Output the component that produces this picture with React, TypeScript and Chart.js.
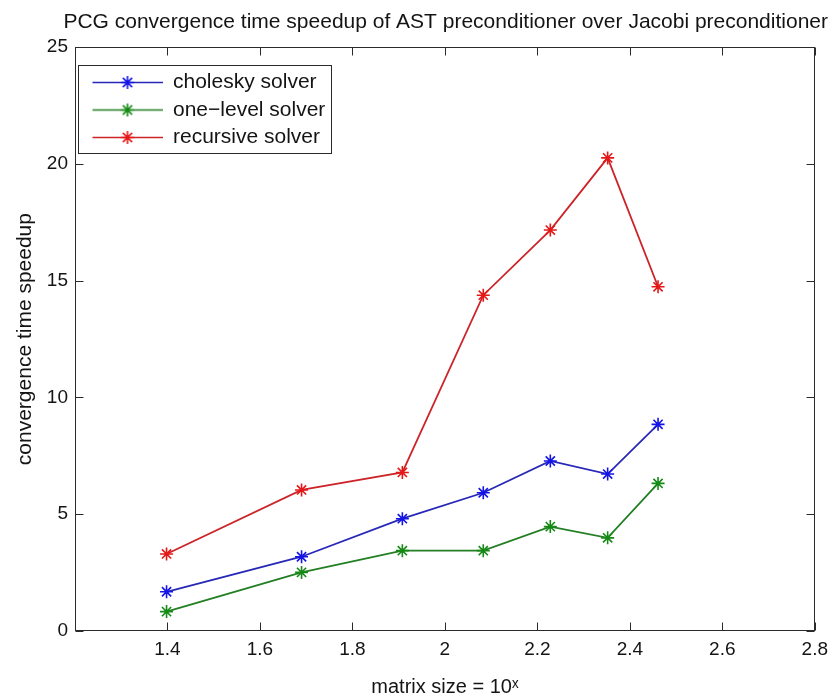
import React, { useEffect, useRef } from 'react';
import { Chart, registerables } from 'chart.js';

Chart.register(...registerables);

// ---- data ----
const matrixSizeExp = [1.398, 1.69, 1.908, 2.083, 2.228, 2.352, 2.461];
const choleskySpeedup = [1.68, 3.18, 4.81, 5.92, 7.28, 6.72, 8.85];
const oneLevelSpeedup = [0.83, 2.51, 3.44, 3.44, 4.47, 3.99, 6.32];
const recursiveSpeedup = [3.3, 6.04, 6.79, 14.38, 17.17, 20.26, 14.74];
const seriesNames = ['cholesky solver', 'one\u2212level solver', 'recursive solver'];
const xTickValues = [1.4, 1.6, 1.8, 2.0, 2.2, 2.4, 2.6, 2.8];
const yTickValues = [0, 5, 10, 15, 20, 25];
const chartTitle = 'PCG convergence time speedup of AST preconditioner over Jacobi preconditioner';
const xTitle = 'matrix size = 10\u02E3';
const yTitle = 'convergence time speedup';

const FAMILY = "'Liberation Sans', Arial, Helvetica, sans-serif";
const LINE_COLORS = ['#2828b8', '#237f23', '#cc2428'];
const MARK_COLORS = ['#1414e6', '#148a14', '#e41818'];

function makeLegendSample(i: number): HTMLCanvasElement {
  const c = document.createElement('canvas');
  c.width = 81;
  c.height = 21;
  const g = c.getContext('2d')!;
  g.strokeStyle = LINE_COLORS[i];
  g.lineWidth = 1.5;
  g.beginPath();
  g.moveTo(11, 10.5);
  g.lineTo(81, 10.5);
  g.stroke();
  const r = 6.5;
  g.strokeStyle = MARK_COLORS[i];
  g.lineWidth = 1.6;
  g.beginPath();
  for (let k = 0; k < 4; k++) {
    const a = (k * Math.PI) / 4;
    g.moveTo(46 - r * Math.cos(a), 10.5 - r * Math.sin(a));
    g.lineTo(46 + r * Math.cos(a), 10.5 + r * Math.sin(a));
  }
  g.stroke();
  return c;
}

const boxPlugin = {
  id: 'matlabBox',
  afterDraw(chart: any) {
    const { ctx, chartArea: a, scales } = chart;
    const x = scales.x;
    const y = scales.y;
    ctx.save();
    ctx.strokeStyle = '#2a2a2a';
    ctx.lineWidth = 1;
    const L = Math.round(a.left) + 0.5;
    const R = Math.round(a.right) - 0.5;
    const T = Math.round(a.top) + 0.5;
    const B = Math.round(a.bottom) - 0.5;
    ctx.strokeRect(L, T, R - L, B - T);
    const tl = 8;
    ctx.beginPath();
    x.ticks.forEach((t: any) => {
      const px = Math.round(x.getPixelForValue(t.value)) + 0.5;
      ctx.moveTo(px, B);
      ctx.lineTo(px, B - tl);
      ctx.moveTo(px, T);
      ctx.lineTo(px, T + tl);
    });
    y.ticks.forEach((t: any) => {
      const py = Math.round(y.getPixelForValue(t.value)) + 0.5;
      ctx.moveTo(L, py);
      ctx.lineTo(L + tl, py);
      ctx.moveTo(R, py);
      ctx.lineTo(R - tl, py);
    });
    ctx.stroke();

    // legend frame
    const lg = chart.legend;
    if (lg && lg.legendHitBoxes && lg.legendHitBoxes.length) {
      const hb = lg.legendHitBoxes;
      const minL = Math.min(...hb.map((h: any) => h.left));
      const minT = Math.min(...hb.map((h: any) => h.top));
      const maxR = Math.max(...hb.map((h: any) => h.left + h.width));
      const maxB = Math.max(...hb.map((h: any) => h.top + h.height));
      const l = Math.round(minL - 3.5) + 0.5;
      const t = Math.round(minT - 6.8) + 0.5;
      const r = Math.round(maxR + 5.5) + 0.5;
      const b = Math.round(maxB + 5.2) + 0.5;
      ctx.strokeRect(l, t, r - l, b - t);
    }
    ctx.restore();
  },
};

export default function App() {
  const ref = useRef<HTMLCanvasElement>(null);
  useEffect(() => {
    document.body.style.margin = '0';
    const canvas = ref.current!;
    const seriesValues = [choleskySpeedup, oneLevelSpeedup, recursiveSpeedup];
    const samples = seriesNames.map((_, i) => makeLegendSample(i));
    const datasets = seriesNames.map((name, i) => ({
      label: name,
      data: matrixSizeExp.map((xv, j) => ({ x: xv, y: seriesValues[i][j] })),
      borderColor: LINE_COLORS[i],
      backgroundColor: MARK_COLORS[i],
      borderWidth: 1.8,
      pointStyle: 'star',
      pointRadius: 6.5,
      pointBorderWidth: 1.6,
      pointBorderColor: MARK_COLORS[i],
      pointBackgroundColor: MARK_COLORS[i],
      tension: 0,
      fill: false,
    }));

    const chart = new Chart(canvas, {
      type: 'line',
      data: { datasets } as any,
      options: {
        animation: false,
        responsive: false,
        layout: { padding: { left: 0, right: 7, top: 0, bottom: 0 } },
        plugins: {
          title: {
            display: true,
            text: chartTitle,
            align: 'end',
            color: '#141414',
            font: { family: FAMILY, size: 21, weight: 'normal', lineHeight: 1.2 },
            padding: { top: 10, bottom: 12 },
          },
          legend: {
            position: 'chartArea',
            align: 'start',
            title: {
              display: true,
              text: '',
              font: { size: 10, lineHeight: 1 },
              // the chartArea legend box starts at the canvas top, so offset past the title block (47px)
              padding: { top: 55.5, bottom: 0 },
            },
            labels: {
              usePointStyle: true,
              pointStyleWidth: 81,
              padding: 6.5,
              color: '#141414',
              font: { family: FAMILY, size: 21 },
              generateLabels: (ch: any) => {
                const items = Chart.defaults.plugins.legend.labels.generateLabels(ch);
                return items.map((it: any, i: number) => ({ ...it, pointStyle: samples[i] }));
              },
            },
          },
          tooltip: { enabled: false },
        },
        scales: {
          x: {
            type: 'linear',
            min: 1.2,
            max: 2.8,
            afterBuildTicks: (s: any) => {
              s.ticks = xTickValues.map((v) => ({ value: v }));
            },
            afterFit: (s: any) => {
              s.height = 62;
            },
            grid: { display: false, drawTicks: false },
            border: { display: false },
            ticks: {
              autoSkip: false,
              maxRotation: 0,
              padding: 7,
              color: '#141414',
              font: { family: FAMILY, size: 19 },
              callback: (v: any) => Number(v).toFixed(1).replace(/\.0$/, ''),
            },
            title: {
              display: true,
              text: xTitle,
              color: '#141414',
              font: { family: FAMILY, size: 20, lineHeight: 0.6 },
              padding: { top: 0, bottom: 0 },
            },
          },
          y: {
            type: 'linear',
            min: 0,
            max: 25,
            afterBuildTicks: (s: any) => {
              s.ticks = yTickValues.map((v) => ({ value: v }));
            },
            afterFit: (s: any) => {
              s.width = 75;
            },
            grid: { display: false, drawTicks: false },
            border: { display: false },
            ticks: {
              padding: 7,
              color: '#141414',
              font: { family: FAMILY, size: 19 },
              callback: (v: any) => String(v),
            },
            title: {
              display: true,
              text: yTitle,
              color: '#141414',
              font: { family: FAMILY, size: 21, lineHeight: 1.2 },
              padding: { top: 12.4, bottom: 0 },
            },
          },
          y2: {
            type: 'linear',
            position: 'right',
            display: true,
            afterFit: (s: any) => {
              s.width = 12;
            },
            grid: { display: false, drawTicks: false },
            border: { display: false },
            ticks: { display: false },
          },
        },
      } as any,
      plugins: [boxPlugin],
    });
    return () => chart.destroy();
  }, []);

  return (
    <canvas
      ref={ref}
      width={835}
      height={693}
      style={{ display: 'block', position: 'absolute', left: 0, top: 0, background: '#fff' }}
    />
  );
}
